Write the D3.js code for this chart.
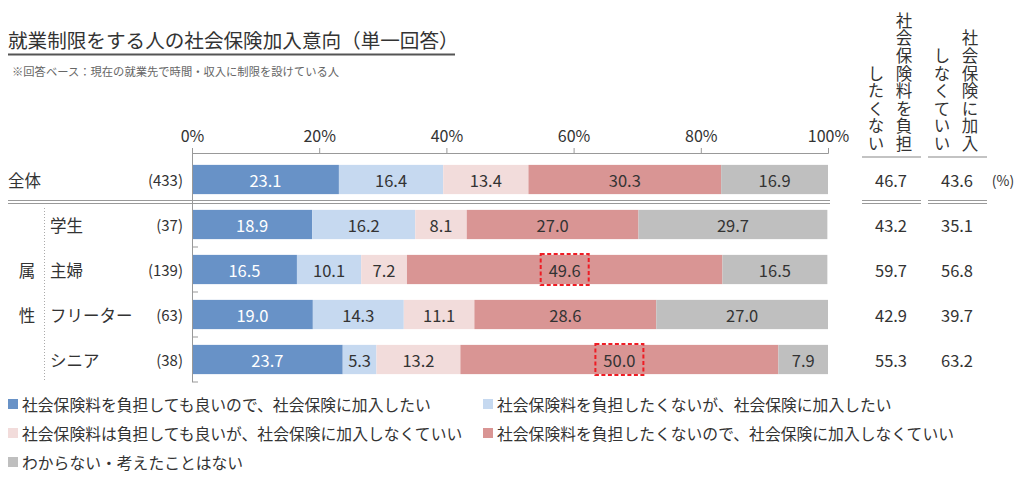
<!DOCTYPE html>
<html lang="ja">
<head>
  <meta charset="utf-8">
  <title>就業制限をする人の社会保険加入意向</title>
  <style>
    body { margin: 0; background: #fff; }
    svg { display: block; font-family: "Noto Sans CJK JP", "Noto Sans", sans-serif; }
  </style>
</head>
<body>
  <script src="https://cdnjs.cloudflare.com/ajax/libs/d3/7.8.5/d3.min.js"></script>
  <script type="text/javascript">
  // data
  const categories = ["全体", "学生", "主婦", "フリーター", "シニア"];
  const counts = ["(433)", "(37)", "(139)", "(63)", "(38)"];
  const seriesNames = [
    "社会保険料を負担しても良いので、社会保険に加入したい",
    "社会保険料を負担したくないが、社会保険に加入したい",
    "社会保険料は負担しても良いが、社会保険に加入しなくていい",
    "社会保険料を負担したくないので、社会保険に加入しなくていい",
    "わからない・考えたことはない"
  ];
  const s1 = [23.1, 18.9, 16.5, 19.0, 23.7];
  const s2 = [16.4, 16.2, 10.1, 14.3, 5.3];
  const s3 = [13.4, 8.1, 7.2, 11.1, 13.2];
  const s4 = [30.3, 27.0, 49.6, 28.6, 50.0];
  const s5 = [16.9, 29.7, 16.5, 27.0, 7.9];
  const notPay = [46.7, 43.2, 59.7, 42.9, 55.3];
  const notJoin = [43.6, 35.1, 56.8, 39.7, 63.2];
  const xTicks = [0, 20, 40, 60, 80, 100];
  const highlights = [["主婦", 3], ["シニア", 3]];

  const colors = ["#6892c7", "#c6d9f0", "#f2dcdb", "#d99594", "#bfbfbf"];
  const textColors = ["#fff", "#333", "#333", "#333", "#333"];
  const seriesValues = [s1, s2, s3, s4, s5];

  const W = 1024, H = 480;
  const svg = d3.select("body").append("svg")
    .attr("width", W).attr("height", H);

  const x = d3.scaleLinear().domain([0, 100]).range([192, 828]);
  const y = d3.scaleBand().domain(categories).range([157, 382]).paddingInner(0.35).paddingOuter(0.175);
  const mid = c => y(c) + y.bandwidth() / 2;

  // title
  svg.append("text")
    .attr("x", 8).attr("y", 48)
    .style("font-size", "19.6px").style("fill", "#333")
    .text("就業制限をする人の社会保険加入意向（単一回答）");
  svg.append("line")
    .attr("x1", 8).attr("x2", 455).attr("y1", 54.5).attr("y2", 54.5)
    .attr("stroke", "#555").attr("stroke-width", 2);
  svg.append("text")
    .attr("x", 12).attr("y", 76)
    .style("font-size", "11.3px").style("fill", "#666")
    .text("※回答ベース：現在の就業先で時間・収入に制限を設けている人");

  // x axis
  const axis = svg.append("g")
    .attr("transform", "translate(0,153)")
    .call(d3.axisTop(x).tickValues(xTicks).tickSize(5).tickPadding(6).tickFormat(d => d + "%"));
  axis.select(".domain").attr("stroke", "#999");
  axis.selectAll(".tick line").attr("stroke", "#999");
  axis.selectAll(".tick text").style("font-size", "16px").style("fill", "#333")
    .style("font-family", "\"Noto Sans CJK JP\", sans-serif");

  // stacked bars
  const rows = categories.map((c, i) => {
    let acc = 0;
    return seriesValues.map((s, k) => {
      const seg = { cat: c, k, v: s[i], x0: acc, x1: Math.min(100, acc + s[i]) };
      acc += s[i];
      return seg;
    });
  }).flat();

  svg.selectAll(".seg")
    .data(rows)
    .enter()
    .append("rect")
    .attr("class", "seg")
    .attr("x", d => x(d.x0))
    .attr("y", d => y(d.cat))
    .attr("width", d => x(d.x1) - x(d.x0))
    .attr("height", y.bandwidth())
    .attr("fill", d => colors[d.k]);

  svg.selectAll(".segLabel")
    .data(rows)
    .enter()
    .append("text")
    .attr("class", "segLabel")
    .attr("x", d => x((d.x0 + d.x1) / 2))
    .attr("y", d => mid(d.cat))
    .attr("text-anchor", "middle")
    .attr("dominant-baseline", "central")
    .style("font-size", "16.5px")
    .style("fill", d => textColors[d.k])
    .text(d => d.v.toFixed(1));

  // dashed highlight boxes
  highlights.forEach(([c, k]) => {
    const d = rows.find(r => r.cat === c && r.k === k);
    const cx = x((d.x0 + d.x1) / 2);
    svg.append("rect")
      .attr("x", cx - 24).attr("y", mid(c) - 15.5)
      .attr("width", 48).attr("height", 31)
      .attr("fill", "none").attr("stroke", "#ee1c24")
      .attr("stroke-width", 2).attr("stroke-dasharray", "4,2.5");
  });

  // vertical axis line and row ticks
  svg.append("line")
    .attr("x1", 192.5).attr("x2", 192.5).attr("y1", 148).attr("y2", 382)
    .attr("stroke", "#999");
  const gap = y.step() - y.bandwidth();
  categories.slice(1).forEach(c => {
    const yy = y(c) + y.bandwidth() + gap / 2;
    svg.append("line")
      .attr("x1", 192).attr("x2", 198).attr("y1", yy).attr("y2", yy)
      .attr("stroke", "#999");
  });

  // double separator
  const sepY = (mid("全体") + mid("学生")) / 2;
  [[8, 830], [862, 921], [928, 987]].forEach(([a, b]) => {
    [sepY - 1.5, sepY + 1.5].forEach(yy => {
      svg.append("line")
        .attr("x1", a).attr("x2", b).attr("y1", yy).attr("y2", yy)
        .attr("stroke", "#999").attr("stroke-width", 1.2);
    });
  });

  // row labels
  svg.selectAll(".catLabel")
    .data(categories)
    .enter()
    .append("text")
    .attr("x", (d, i) => i === 0 ? 8 : 50)
    .attr("y", d => mid(d))
    .attr("dominant-baseline", "central")
    .style("font-size", "16.5px").style("fill", "#333")
    .text(d => d);
  svg.selectAll(".countLabel")
    .data(counts)
    .enter()
    .append("text")
    .attr("x", 183)
    .attr("y", (d, i) => mid(categories[i]))
    .attr("text-anchor", "end")
    .attr("dominant-baseline", "central")
    .style("font-size", "15px").style("fill", "#333")
    .text(d => d);
  svg.append("text")
    .attr("x", 27).attr("y", mid("主婦")).attr("text-anchor", "middle")
    .attr("dominant-baseline", "central")
    .style("font-size", "16.5px").style("fill", "#333").text("属");
  svg.append("text")
    .attr("x", 27).attr("y", mid("フリーター")).attr("text-anchor", "middle")
    .attr("dominant-baseline", "central")
    .style("font-size", "16.5px").style("fill", "#333").text("性");
  svg.append("line")
    .attr("x1", 44.5).attr("x2", 44.5).attr("y1", 208).attr("y2", 382)
    .attr("stroke", "#aaa").attr("stroke-dasharray", "1,2");

  // right-hand columns
  const colX = [891, 957];
  [notPay, notJoin].forEach((vals, j) => {
    svg.selectAll(".col" + j)
      .data(vals)
      .enter()
      .append("text")
      .attr("x", colX[j])
      .attr("y", (d, i) => mid(categories[i]))
      .attr("text-anchor", "middle")
      .attr("dominant-baseline", "central")
      .style("font-size", "16.5px").style("fill", "#333")
      .text(d => d.toFixed(1));
  });
  svg.append("text")
    .attr("x", 1003).attr("y", mid("全体")).attr("text-anchor", "middle")
    .attr("dominant-baseline", "central")
    .style("font-size", "14px").style("fill", "#333").text("(%)");

  // vertical headers (vertical writing, bottom aligned)
  const headers = [
    { cx: 904, text: "社会保険料を負担" },
    { cx: 876, text: "したくない" },
    { cx: 970, text: "社会保険に加入" },
    { cx: 942, text: "しなくていい" }
  ];
  svg.selectAll(".vhead")
    .data(headers)
    .enter()
    .append("text")
    .attr("class", "vhead")
    .attr("x", d => d.cx)
    .attr("y", 153)
    .attr("text-anchor", "end")
    .style("writing-mode", "vertical-rl")
    .style("font-size", "16.5px")
    .style("letter-spacing", "1.1px")
    .style("fill", "#333")
    .text(d => d.text);
  [[862, 921], [928, 987]].forEach(([a, b]) => {
    svg.append("line")
      .attr("x1", a).attr("x2", b).attr("y1", 157).attr("y2", 157)
      .attr("stroke", "#888").attr("stroke-width", 1.2);
  });

  // legend
  const legendPos = [[8, 404], [483, 404], [8, 433], [483, 433], [8, 462]];
  const legend = svg.selectAll(".legend")
    .data(seriesNames)
    .enter()
    .append("g")
    .attr("class", "legend")
    .attr("transform", (d, i) => `translate(${legendPos[i][0]}, ${legendPos[i][1]})`);
  legend.append("rect")
    .attr("x", 0).attr("y", -5).attr("width", 10).attr("height", 10)
    .attr("fill", (d, i) => colors[i]);
  legend.append("text")
    .attr("x", 14).attr("y", 0)
    .attr("dominant-baseline", "central")
    .style("font-size", "15.8px").style("fill", "#333")
    .text(d => d);
  </script>
</body>
</html>
